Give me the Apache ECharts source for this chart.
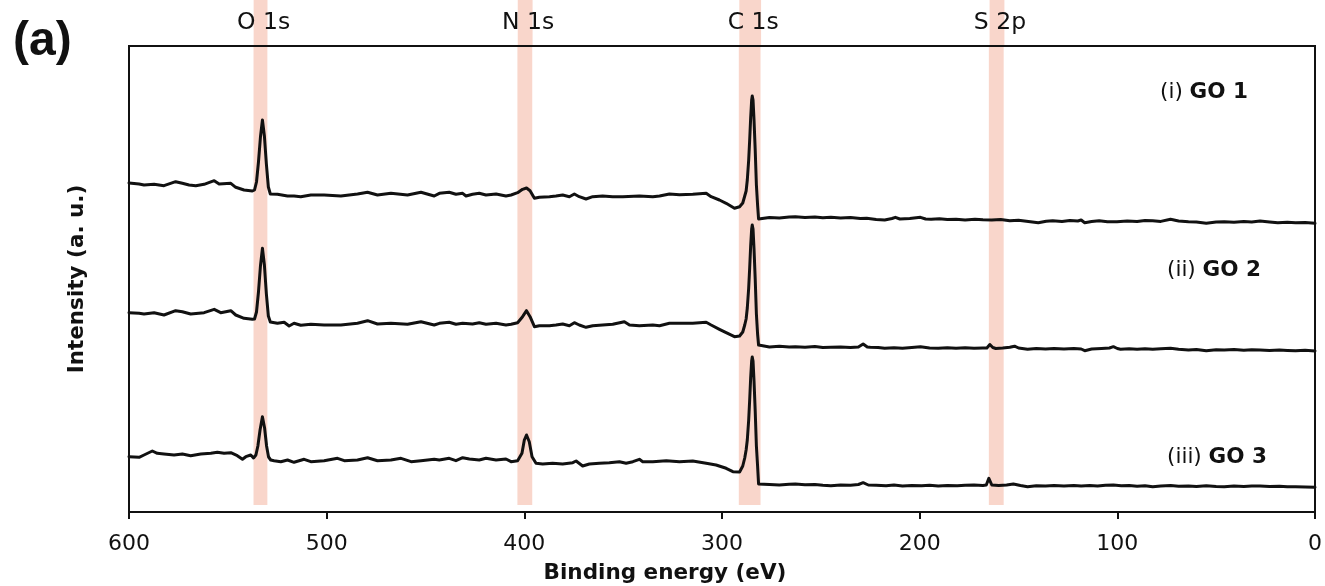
<!DOCTYPE html>
<html><head><meta charset="utf-8">
<script src="https://cdn.jsdelivr.net/npm/echarts@6/dist/echarts.min.js"></script>
<style>html,body{margin:0;padding:0;background:#fff}#c{width:1325px;height:586px}</style>
</head><body><div id="c"></div>
<script>
// Binding energy (eV), intensity (a.u., stacked offsets as drawn)
const GO1 = [[600,329],[594.9,328],[592.4,327],[587.3,327.7],[582.3,326.3],[576.4,330.3],[573,328.7],[569.6,327],[566.2,326.3],[562,327.7],[556.9,331.3],[554.4,328],[548.5,328.7],[546,324.7],[541.8,322],[537.6,321],[536.5,322],[535.5,330],[534.5,350],[533.5,375],[532.5,392],[531.5,376],[530.5,348],[529.5,325],[528.5,318],[524.9,317.7],[519.8,316],[519,314.7],[516.5,316],[513.1,315.3],[508,317],[501.3,317],[492.8,316],[484.4,318],[479.3,319.7],[474.3,317],[467.5,318.7],[459.1,317],[452.3,319.7],[445.6,316],[443,318.7],[438,319.7],[434.6,317.7],[431.2,318.7],[429.5,316],[426.2,317.7],[422.8,318.7],[419.4,317],[414.3,318],[409.3,316],[406.7,317],[403.4,319.3],[400.9,322.7],[398.9,324],[397.1,321.3],[394.9,313.7],[392.4,314.7],[387.3,315.3],[384,316],[380.6,317],[377.2,315.3],[374.7,318],[372.2,315.3],[368.8,313],[365.4,315.3],[360.4,316],[355.3,315.3],[350.2,315.3],[341.8,316],[335,315.3],[331.6,316],[326.6,318],[321.5,317.3],[314.8,317.7],[308,318.7],[305.5,315.3],[301.3,312],[297.9,308.7],[293.7,303.7],[291.1,305.3],[289.5,309],[288.5,316],[287.8,321],[287.2,332],[286.5,352],[286,372],[285.5,394],[285,412],[284.7,416],[284.3,412],[283.8,392],[283.2,362],[282.6,327],[282,307],[281.5,293],[281,293.7],[276,294.5],[271,294],[266,295],[262.9,295.3],[258,294.5],[253,295],[249,294.3],[244.9,294.7],[240,294],[235,294.5],[230,293.5],[226.8,293.7],[222,292.5],[217.7,292],[214,293.5],[212.3,294.7],[210,293],[205,293.5],[199.6,294.7],[197,293],[194.2,292.7],[190,293.3],[186,292.5],[181.6,292.7],[177,292],[172,292.8],[168,292.2],[163.5,292],[159,292.5],[154.4,291.3],[150,291.8],[145,290.5],[140,289.3],[136,290.8],[132.7,291.3],[128,290.5],[124,291.5],[120,291],[118.3,292],[116.5,289.3],[113,290.5],[109.2,291.3],[105,290.2],[100.2,290.3],[95,291],[90,290.5],[86,291.5],[82.1,291.3],[78,290.6],[73.1,292.7],[69,291],[64,290.3],[60,290],[55,288.7],[50,290],[45.9,290.3],[41,289.8],[36,290.5],[32,290],[27.8,291],[23,290],[18.8,289.3],[14,289.8],[9.8,289.3],[5,289.5],[0,288.7]];

const GO2 = [[600,199.3],[594.9,198.7],[592.4,198],[587.3,199.3],[582.3,197],[576.4,201.3],[573,200.3],[568.8,198],[562,199.3],[556.9,202.7],[553.6,199.3],[548.5,201.3],[546,197],[541.8,193.7],[537.6,192.7],[536.5,193],[535.5,200],[534.5,220],[533.5,246],[532.5,263.7],[531.5,247],[530.5,218],[529.5,196],[528.5,190],[524.9,188.7],[521.5,189.7],[519,186],[516.5,188.7],[513.1,186.7],[508,187.7],[501.3,187],[492.8,187],[484.4,188.7],[479.3,191.3],[474.3,188],[467.5,188.7],[459.1,187.7],[452.3,190.3],[445.6,187],[443,188.7],[438,189.7],[434.6,187.7],[431.2,188.7],[426.2,188],[422.8,189.3],[419.4,187.7],[414.3,188.7],[409.3,187],[406.7,187.7],[403.4,189.3],[400.9,195.3],[398.9,201.3],[397.1,195.3],[394.9,185.3],[392.4,186.3],[387.3,186.3],[384,187],[380.6,188],[377.2,186.3],[374.7,189.3],[372.2,187],[368.8,184.7],[365.4,186.3],[360.4,187],[355.3,187.7],[349.4,190.3],[346.8,187],[341.8,186.3],[335,187],[331.6,186.3],[326.6,188.7],[321.5,188.7],[314.8,188.7],[308,189.7],[305.5,187],[301.3,182.7],[297.9,179.3],[293.7,175.3],[291.1,176],[289.5,180],[288.5,187],[287.8,193],[287.2,204],[286.5,224],[286,244],[285.5,266],[285,283],[284.7,287],[284.3,283],[283.8,263],[283.2,233],[282.6,198],[282,178],[281.5,167],[281,165.3],[276,165],[271,165.8],[266,165],[262.9,165.3],[258,164.8],[253,165.5],[249,164.5],[244.9,164.7],[240,165],[235,164.5],[231,165],[228.6,168],[226.5,165],[225,164.7],[221,164.5],[217.7,163.7],[213,164.3],[208.7,163.7],[204,164.5],[199.6,165.3],[195,164],[190.6,163.7],[186,164.3],[181.6,163.7],[177,164.2],[172.5,163.7],[168,164],[166,164],[164.5,167.5],[163,164.5],[161.5,163.5],[158,164],[154.4,164.7],[152,165.8],[150,164],[145.4,162.7],[141,163.5],[136.3,163],[132,163.5],[127,163],[122,163.5],[118.3,163],[116.5,161.3],[113,163],[108,163.5],[104,164],[102,165.3],[100,163.5],[98.4,162.7],[94,163.3],[90,162.8],[86,163.2],[82.1,162.7],[78,163.3],[73.1,163.7],[69,162.8],[64,162],[60,162.6],[55,161.3],[50,162.3],[45.9,162],[41,162.5],[36,161.8],[32,162.3],[27.8,162],[23,161.5],[18,162],[14,161.6],[9.8,161.3],[5,161.7],[0,161]];

const GO3 = [[600,55.3],[594.9,54.7],[592.4,57],[588.2,61],[585.7,58.7],[582.3,58],[577.2,57],[573,58],[568.8,56.3],[563.7,58],[558.6,58.7],[555.3,59.7],[551.9,58.7],[548.5,59.3],[545.2,56.3],[542.6,52.7],[540.9,55.3],[538.4,57],[537,54],[535.8,57],[534.8,66],[533.7,82],[532.5,95.3],[531.4,84],[530.4,66],[529.4,55],[528.3,52],[526.6,51.3],[523.2,50.3],[519.8,52],[516.5,49.7],[511.4,52.7],[508,50.3],[501.3,51.3],[494.5,53.7],[491.1,51.3],[484.4,52],[479.3,54.3],[474.3,51.3],[467.5,52],[462.4,53.7],[457.3,50.3],[452.3,51.3],[445.6,52.7],[443,52],[438,53.7],[434.6,51.3],[431.2,54.3],[427.8,53],[422.8,52],[419.4,53.7],[414.3,52],[409.3,53],[406.7,50.3],[403.4,51.3],[401.2,58.7],[400,72],[398.9,77],[397.5,70.3],[396.1,55.3],[394.1,48.7],[390.7,48],[385.7,48.7],[380.6,48],[375.5,49.3],[373.8,51],[370.5,46],[367.1,48],[362,48.7],[357,49.3],[351.9,50.3],[348.5,48.7],[345.1,50.3],[341.8,52.7],[340.1,50.3],[335,50.3],[328.2,51.3],[321.5,50.3],[314.8,51],[308,48.7],[303,47],[297.9,43.7],[294.5,40.3],[291.1,40],[289.5,46],[288.5,54],[287.8,62],[287.2,72],[286.5,92],[286,112],[285.5,134],[285,151],[284.7,155],[284.3,151],[283.8,131],[283.2,101],[282.6,66],[282,46],[281.5,28],[281,27],[276,27.5],[271,27],[266,27.8],[262.9,28],[258,27.2],[253,27.6],[249,26.8],[244.9,26.3],[240,27],[235,26.8],[231,27.5],[228.6,29.3],[226,27],[222,26.8],[217,26.3],[213,27],[208.7,26],[204,26.6],[199,26.2],[195,26.8],[190.6,26],[186,26.6],[181,26.2],[177,26.8],[172.5,27],[168,26.6],[166.3,27],[165,33.7],[163.5,27],[160,26.5],[156,27],[152.6,28],[149,26.5],[145.4,25.3],[141,26.3],[136.3,26],[132,26.5],[127,26],[122,26.6],[118.3,26],[114,26.5],[110,26],[106,26.8],[102,27],[98,26.2],[94,26.5],[90,25.8],[86,26.3],[82.1,25.3],[78,26],[73,26.4],[69,25.8],[64,26],[60,25.5],[55,26.2],[50,25.6],[45.9,25.3],[41,25.9],[36,25.5],[32,26],[27.8,26],[23,25.4],[18,25.8],[14,25.2],[9.8,25.3],[5,25],[0,24.7]];

const seriesNames = ['GO 1', 'GO 2', 'GO 3'];
const seriesPrefixes = ['(i)', '(ii)', '(iii)'];
const peakNames = ['O 1s', 'N 1s', 'C 1s', 'S 2p'];
const peakBands = [[537, 530], [403.5, 396], [291.5, 280.5], [165, 157.5]];
const xMin = 0, xMax = 600, xStep = 100;
const yMin = 0, yMax = 466, bandBottom = 7;
const xName = 'Binding energy (eV)';
const yName = 'Intensity (a. u.)';
const panelTag = '(a)';

const FONT = 'DejaVu Sans';
const BAND = '#f9d6cb';
const labelPos = [[1199, 76], [1209, 254], [1212, 441]];

const chart = echarts.init(document.getElementById('c'), null, {renderer: 'canvas'});

const mainBands = peakBands.map(b => [{xAxis: b[0], yAxis: bandBottom}, {xAxis: b[1], yAxis: yMax}]);
const topBands = peakBands.map((b, i) => [{name: peakNames[i], xAxis: b[0]}, {xAxis: b[1]}]);

const spectra = [GO1, GO2, GO3];
const series = spectra.map((d, i) => ({
  type: 'line', name: seriesNames[i], data: d,
  xAxisIndex: 0, yAxisIndex: 0,
  symbol: 'none', smooth: false, z: 3,
  lineStyle: {color: '#111', width: 3, join: 'round', cap: 'round'},
  markArea: i === 0 ? {silent: true, itemStyle: {color: BAND}, label: {show: false}, data: mainBands} : undefined
}));
series.push({
  type: 'line', name: 'bands-top', xAxisIndex: 1, yAxisIndex: 1,
  data: [[xMin, 0.5], [xMax, 0.5]], symbol: 'none',
  lineStyle: {opacity: 0, width: 0},
  markArea: {
    silent: true, itemStyle: {color: BAND},
    label: {show: true, position: 'inside', offset: [3, 0], formatter: '{b}', fontFamily: FONT, fontSize: 23.5, color: '#111'},
    data: topBands
  }
});

const titles = [
  {text: panelTag, left: 8, top: 13, textStyle: {fontFamily: 'Liberation Sans', fontWeight: 'bold', fontSize: 48, color: '#111'}},
  {text: xName, left: 660, top: 557, textAlign: 'center', textStyle: {fontFamily: FONT, fontWeight: 'bold', fontSize: 21.5, color: '#111'}}
];
seriesNames.forEach((n, i) => {
  titles.push({
    text: '{r|' + seriesPrefixes[i] + '} {b|' + n + '}',
    left: labelPos[i][0], top: labelPos[i][1], textAlign: 'center',
    textStyle: {fontFamily: FONT, fontSize: 21.5, fontWeight: 'normal', color: '#111',
      rich: {r: {fontFamily: FONT, fontSize: 21.5, fontWeight: 'normal', color: '#111'},
             b: {fontFamily: FONT, fontSize: 21.5, fontWeight: 'bold', color: '#111'}}}
  });
});

chart.setOption({
  animation: false,
  backgroundColor: '#fff',
  title: titles,
  grid: [
    {left: 129, right: 9, top: 46, bottom: 74, show: true, borderColor: '#111', borderWidth: 2, backgroundColor: 'transparent', z: 5},
    {left: 129, right: 9, top: 0, height: 46, show: false}
  ],
  xAxis: [
    {type: 'value', gridIndex: 0, min: xMin, max: xMax, interval: xStep, inverse: true,
     axisLine: {show: false}, splitLine: {show: false},
     axisTick: {show: true, inside: false, length: 7, lineStyle: {color: '#111', width: 2}},
     axisLabel: {margin: 21, fontFamily: FONT, fontSize: 22, color: '#111'}, z: 6},
    {type: 'value', gridIndex: 1, min: xMin, max: xMax, inverse: true, show: false}
  ],
  yAxis: [
    {type: 'value', gridIndex: 0, min: yMin, max: yMax,
     axisLine: {show: false}, axisTick: {show: false}, axisLabel: {show: false}, splitLine: {show: false},
     name: yName, nameLocation: 'middle', nameRotate: 90, nameGap: 41,
     nameTextStyle: {fontFamily: FONT, fontWeight: 'bold', fontSize: 21.5, color: '#111'}},
    {type: 'value', gridIndex: 1, min: 0, max: 1, show: false}
  ],
  series: series
});
</script>
</body></html>
